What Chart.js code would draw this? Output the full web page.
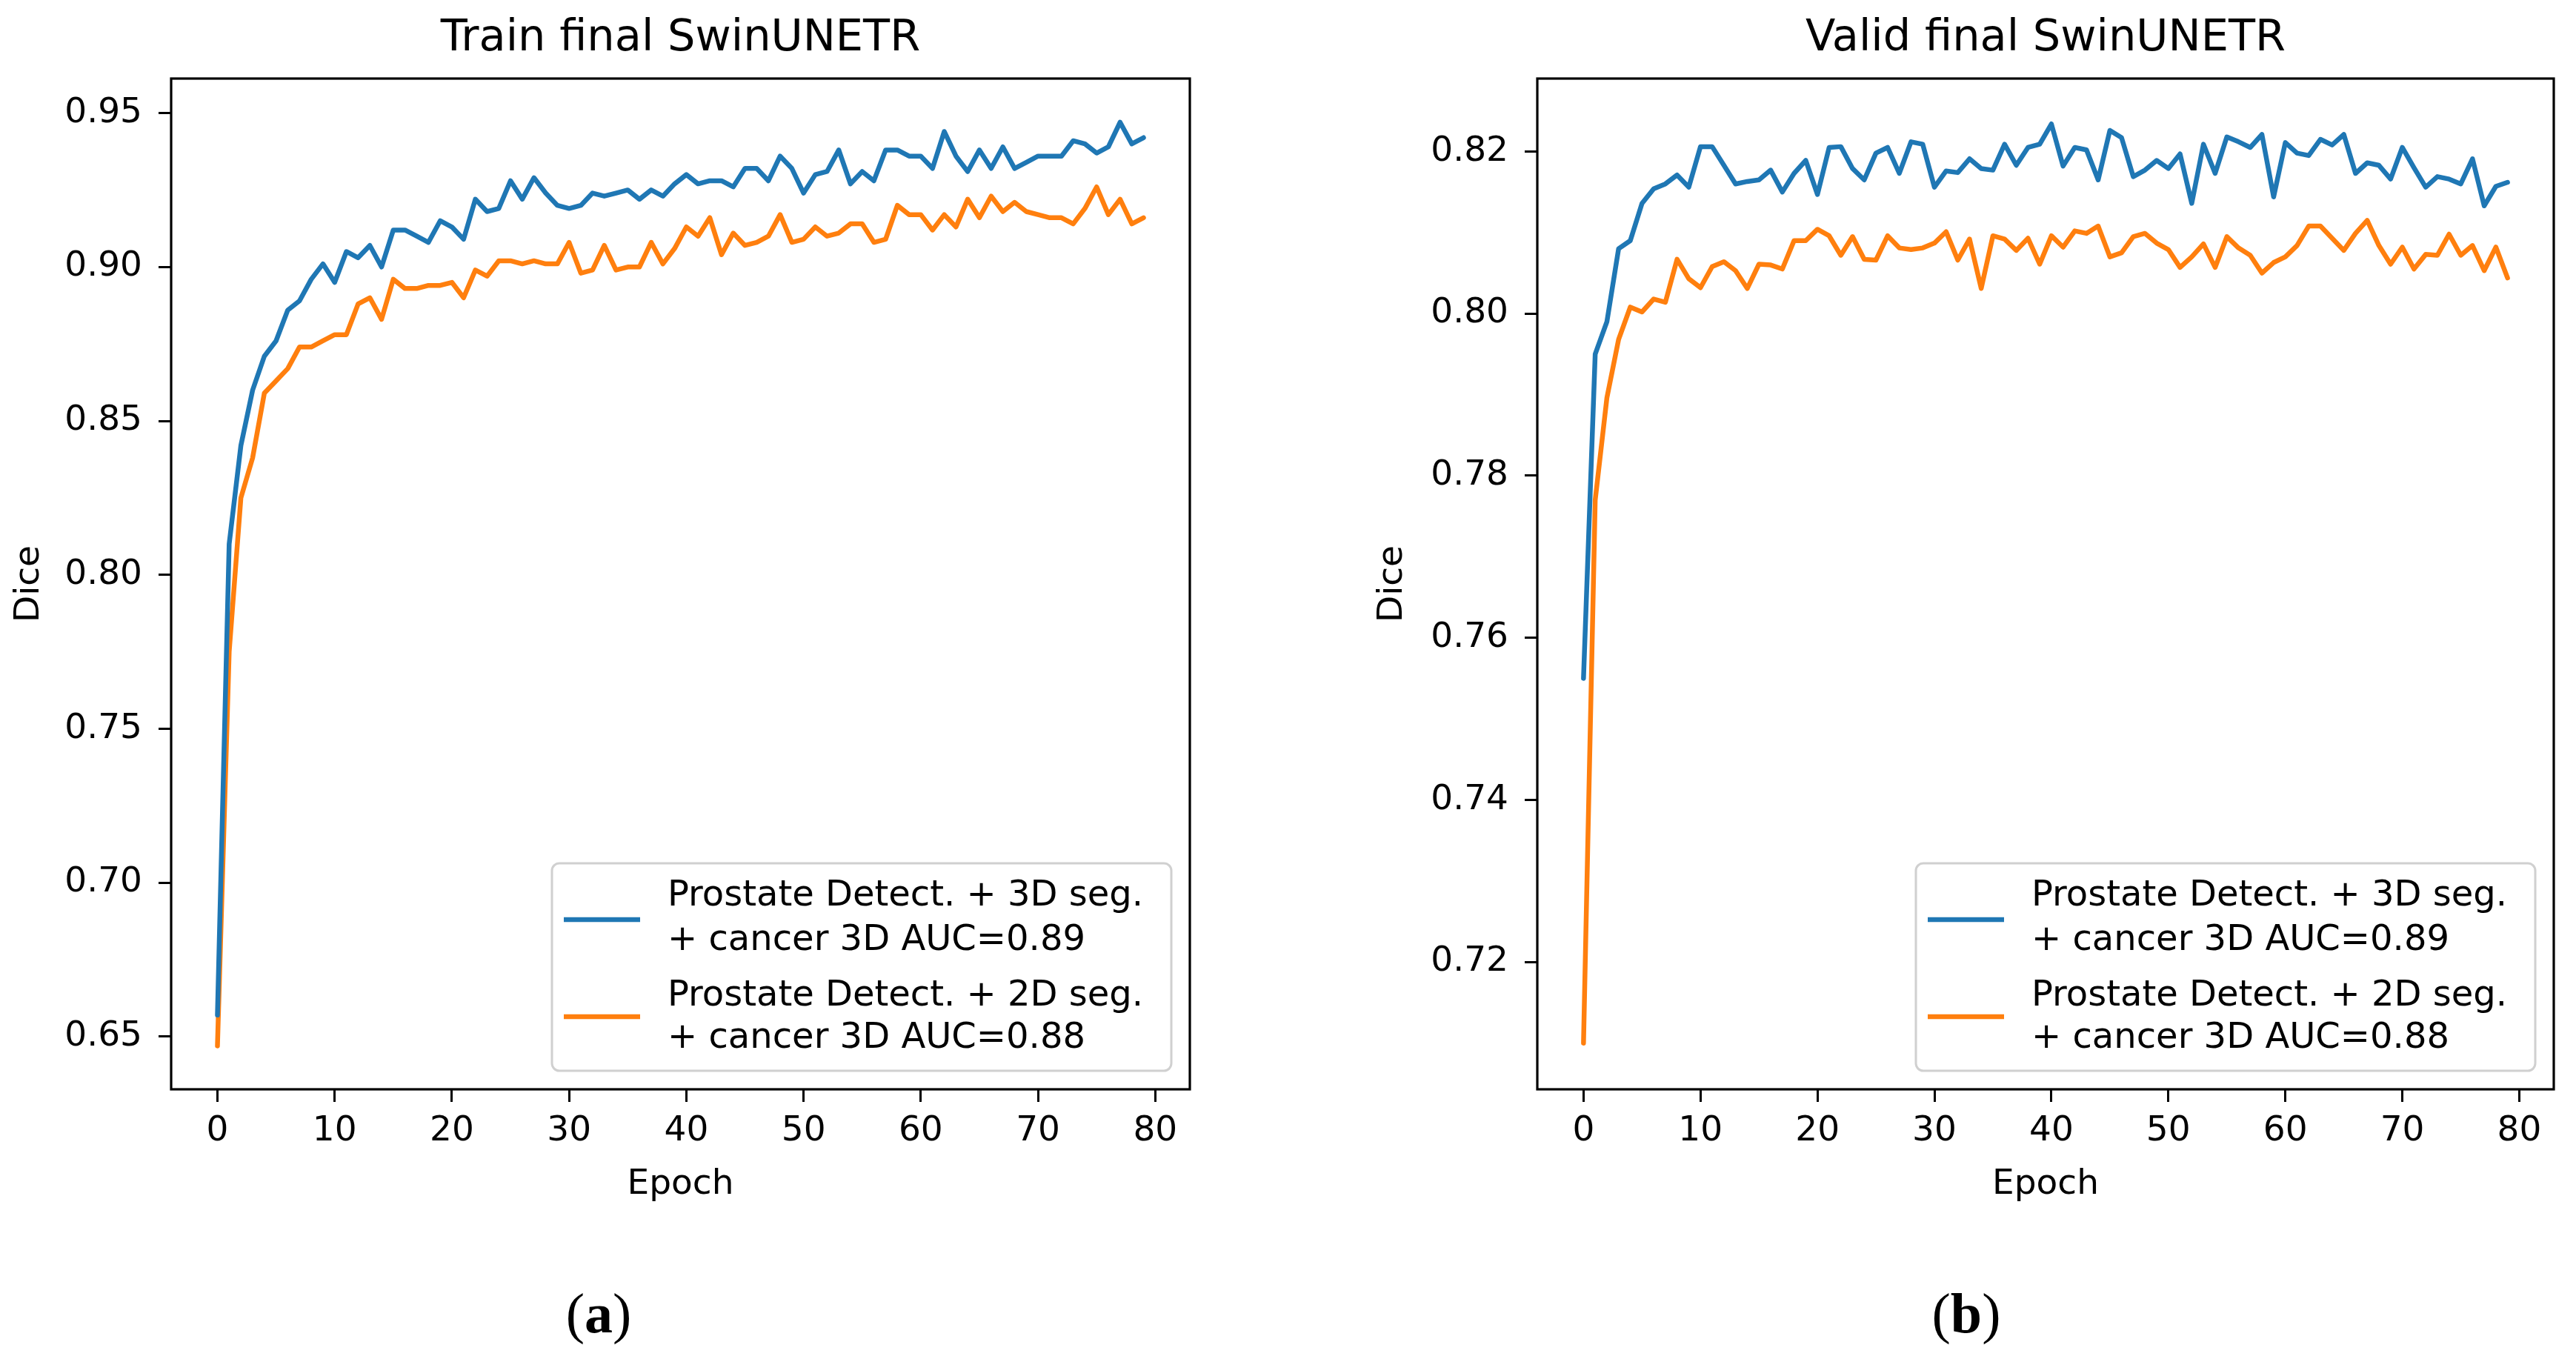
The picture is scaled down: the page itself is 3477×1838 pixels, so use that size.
<!DOCTYPE html>
<html><head><meta charset="utf-8">
<script src="https://cdn.jsdelivr.net/npm/chart.js@4.4.1/dist/chart.umd.min.js"></script>
<style>
html,body{margin:0;padding:0;background:#fff;width:3477px;height:1838px;overflow:hidden;}
canvas{position:absolute;top:0;}
#cA{left:0;} #cB{left:1738px;}
.cap{position:absolute;font-family:"Liberation Serif","DejaVu Serif",serif;font-size:76px;color:#000;transform:translate(-50%,-50%);line-height:1;white-space:nowrap;}
</style></head><body>
<canvas id="cA" width="1738" height="1700" style="width:1738px;height:1700px"></canvas>
<canvas id="cB" width="1739" height="1700" style="width:1739px;height:1700px"></canvas>
<div class="cap" style="left:808px;top:1772px">(<b>a</b>)</div>
<div class="cap" style="left:2654px;top:1772px">(<b>b</b>)</div>
<script>
// ---- data ----
const epochs = [0,1,2,3,4,5,6,7,8,9,10,11,12,13,14,15,16,17,18,19,20,21,22,23,24,25,26,27,28,29,30,31,32,33,34,35,36,37,38,39,40,41,42,43,44,45,46,47,48,49,50,51,52,53,54,55,56,57,58,59,60,61,62,63,64,65,66,67,68,69,70,71,72,73,74,75,76,77,78,79];
const seriesLabels = ["Prostate Detect. + 3D seg.\n+ cancer 3D AUC=0.89", "Prostate Detect. + 2D seg.\n+ cancer 3D AUC=0.88"];
const chartTitles = ["Train final SwinUNETR", "Valid final SwinUNETR"];
const xTitle = "Epoch";
const yTitle = "Dice";
const xTicks = [0,10,20,30,40,50,60,70,80];
const yTicksTrain = [0.65,0.70,0.75,0.80,0.85,0.90,0.95];
const yTicksValid = [0.72,0.74,0.76,0.78,0.80,0.82];

const trainSeg3D = [0.657,0.810,0.842,0.860,0.871,0.876,0.886,0.889,0.896,0.901,
 0.895,0.905,0.903,0.907,0.900,0.912,0.912,0.910,0.908,0.915,
 0.913,0.909,0.922,0.918,0.919,0.928,0.922,0.929,0.924,0.920,
 0.919,0.920,0.924,0.923,0.924,0.925,0.922,0.925,0.923,0.927,
 0.930,0.927,0.928,0.928,0.926,0.932,0.932,0.928,0.936,0.932,
 0.924,0.930,0.931,0.938,0.927,0.931,0.928,0.938,0.938,0.936,
 0.936,0.932,0.944,0.936,0.931,0.938,0.932,0.939,0.932,0.934,
 0.936,0.936,0.936,0.941,0.940,0.937,0.939,0.947,0.940,0.942];
const trainSeg2D = [0.647,0.775,0.825,0.838,0.859,0.863,0.867,0.874,0.874,0.876,
 0.878,0.878,0.888,0.890,0.883,0.896,0.893,0.893,0.894,0.894,
 0.895,0.890,0.899,0.897,0.902,0.902,0.901,0.902,0.901,0.901,
 0.908,0.898,0.899,0.907,0.899,0.900,0.900,0.908,0.901,0.906,
 0.913,0.910,0.916,0.904,0.911,0.907,0.908,0.910,0.917,0.908,
 0.909,0.913,0.910,0.911,0.914,0.914,0.908,0.909,0.920,0.917,
 0.917,0.912,0.917,0.913,0.922,0.916,0.923,0.918,0.921,0.918,
 0.917,0.916,0.916,0.914,0.919,0.926,0.917,0.922,0.914,0.916];
const validSeg3D = [0.755,0.795,0.799,0.808,0.809,0.8136,0.8154,0.816,0.8171,0.8156,
 0.8206,0.8206,0.8183,0.816,0.8163,0.8165,0.8177,0.815,0.8173,0.8189,
 0.8147,0.8205,0.8206,0.8179,0.8165,0.8198,0.8205,0.8173,0.8212,0.8209,
 0.8156,0.8176,0.8174,0.8191,0.8179,0.8177,0.8209,0.8183,0.8205,0.8209,
 0.8234,0.8182,0.8205,0.8202,0.8165,0.8226,0.8217,0.8169,0.8177,0.8189,
 0.8179,0.8197,0.8136,0.8209,0.8173,0.8218,0.8212,0.8205,0.8221,0.8144,
 0.8211,0.8198,0.8195,0.8215,0.8208,0.8221,0.8173,0.8186,0.8183,0.8166,
 0.8205,0.8180,0.8156,0.8169,0.8166,0.8160,0.8191,0.8133,0.8157,0.8162];
const validSeg2D = [0.710,0.777,0.7896,0.7968,0.8008,0.8002,0.8018,0.8014,0.8067,0.8043,
 0.8032,0.8058,0.8064,0.8053,0.8031,0.8061,0.8060,0.8055,0.8090,0.8090,
 0.8104,0.8096,0.8072,0.8095,0.8067,0.8066,0.8096,0.8081,0.8079,0.8081,
 0.8087,0.8101,0.8066,0.8092,0.8031,0.8096,0.8092,0.8078,0.8093,0.8061,
 0.8096,0.8082,0.8102,0.8099,0.8108,0.8070,0.8075,0.8095,0.8099,0.8087,
 0.8079,0.8057,0.8070,0.8086,0.8057,0.8095,0.8081,0.8072,0.8050,0.8063,
 0.8070,0.8084,0.8108,0.8108,0.8093,0.8078,0.8099,0.8115,0.8084,0.8061,
 0.8082,0.8055,0.8073,0.8072,0.8098,0.8072,0.8084,0.8053,0.8082,0.8044];

// ---- style ----
const FONT = '"DejaVu Sans", sans-serif';
const FS = 47;
const LEG_FS = 48;
const BLUE = '#1f77b4', ORANGE = '#ff7f0e';
const LW = 6.5;

const framePlugin = {
  id: 'frame',
  afterDraw(chart) {
    const a = chart.chartArea, ctx = chart.ctx;
    ctx.save();
    ctx.strokeStyle = '#000'; ctx.lineWidth = 3.2;
    ctx.strokeRect(a.left, a.top, a.right - a.left, a.bottom - a.top);
    ctx.restore();
  }
};
const titlePlugin = {
  id: 'plotTitle',
  afterDraw(chart, args, opts) {
    const a = chart.chartArea, ctx = chart.ctx;
    ctx.save();
    ctx.fillStyle = '#000';
    ctx.font = '59px ' + FONT;
    ctx.textAlign = 'center'; ctx.textBaseline = 'middle';
    ctx.fillText(opts.text, (a.left + a.right) / 2, 53);
    ctx.restore();
  }
};
const legendPlugin = {
  id: 'boxLegend',
  afterDatasetsDraw(chart) {
    const a = chart.chartArea, ctx = chart.ctx;
    const w = 836, h = 280;
    const right = a.right - 25, bottom = a.bottom - 25;
    const left = right - w, top = bottom - h;
    ctx.save();
    ctx.beginPath();
    if (ctx.roundRect) ctx.roundRect(left, top, w, h, 10); else ctx.rect(left, top, w, h);
    ctx.fillStyle = 'rgba(255,255,255,0.8)';
    ctx.fill();
    ctx.strokeStyle = '#d0d0d0'; ctx.lineWidth = 3;
    ctx.stroke();
    const lineY = [76, 207];
    const textY = [[45, 105], [180, 237]];
    chart.data.datasets.forEach((ds, i) => {
      ctx.strokeStyle = ds.borderColor; ctx.lineWidth = LW;
      ctx.beginPath();
      ctx.moveTo(left + 16, top + lineY[i]);
      ctx.lineTo(left + 119, top + lineY[i]);
      ctx.stroke();
      ctx.fillStyle = '#000';
      ctx.font = LEG_FS + 'px ' + FONT;
      ctx.textAlign = 'left'; ctx.textBaseline = 'middle';
      ds.label.split('\n').forEach((t, j) => ctx.fillText(t, left + 156, top + textY[i][j]));
    });
    ctx.restore();
  }
};

function makeChart(id, title, s1, s2, yTicks, yMin, yMax, padLeft, padRight, yAxisW) {
  const toPts = arr => arr.map((v, i) => ({x: epochs[i], y: v}));
  return new Chart(document.getElementById(id), {
    type: 'line',
    data: {
      datasets: [
        {label: seriesLabels[0], data: toPts(s1), borderColor: BLUE, backgroundColor: BLUE, borderWidth: LW, pointRadius: 0, tension: 0, fill: false, borderJoinStyle: 'round', borderCapStyle: 'round'},
        {label: seriesLabels[1], data: toPts(s2), borderColor: ORANGE, backgroundColor: ORANGE, borderWidth: LW, pointRadius: 0, tension: 0, fill: false, borderJoinStyle: 'round', borderCapStyle: 'round'}
      ]
    },
    options: {
      responsive: false,
      animation: false,
      devicePixelRatio: 1,
      layout: {padding: {top: 106, bottom: 69, left: padLeft, right: padRight}},
      plugins: {
        legend: {display: false},
        title: {display: false},
        tooltip: {enabled: false},
        plotTitle: {text: title}
      },
      scales: {
        x: {
          type: 'linear', min: -3.95, max: 82.95,
          afterBuildTicks: s => { s.ticks = xTicks.map(v => ({value: v})); },
          afterFit: s => { s.height = 161; },
          ticks: {font: {size: FS, family: FONT}, color: '#000', padding: 12, maxRotation: 0, autoSkip: false},
          grid: {display: true, drawOnChartArea: false, drawTicks: true, tickLength: 17, tickWidth: 3, tickColor: '#000'},
          border: {display: false},
          title: {display: true, text: xTitle, font: {size: FS, family: FONT}, color: '#000', padding: {top: 4, bottom: 4}}
        },
        y: {
          type: 'linear', min: yMin, max: yMax,
          afterBuildTicks: s => { s.ticks = yTicks.map(v => ({value: v})); },
          afterFit: s => { s.width = yAxisW; },
          ticks: {font: {size: FS, family: FONT}, color: '#000', padding: 22, callback: v => Number(v).toFixed(2), autoSkip: false},
          grid: {display: true, drawOnChartArea: false, drawTicks: true, tickLength: 17, tickWidth: 3, tickColor: '#000'},
          border: {display: false},
          title: {display: true, text: yTitle, font: {size: FS, family: FONT}, color: '#000', padding: {top: 4, bottom: 4}}
        }
      }
    },
    plugins: [legendPlugin, framePlugin, titlePlugin]
  });
}

// left: canvas 1738 wide, plot 231..1606 ; right: canvas 1739 wide, plot 337..1709
makeChart('cA', chartTitles[0], trainSeg3D, trainSeg2D, yTicksTrain, 0.6329, 0.9612, 8, 1738 - 1606, 223);
makeChart('cB', chartTitles[1], validSeg3D, validSeg2D, yTicksValid, 0.7043, 0.8290, 110, 1739 - 1709, 227);
</script>
</body></html>
